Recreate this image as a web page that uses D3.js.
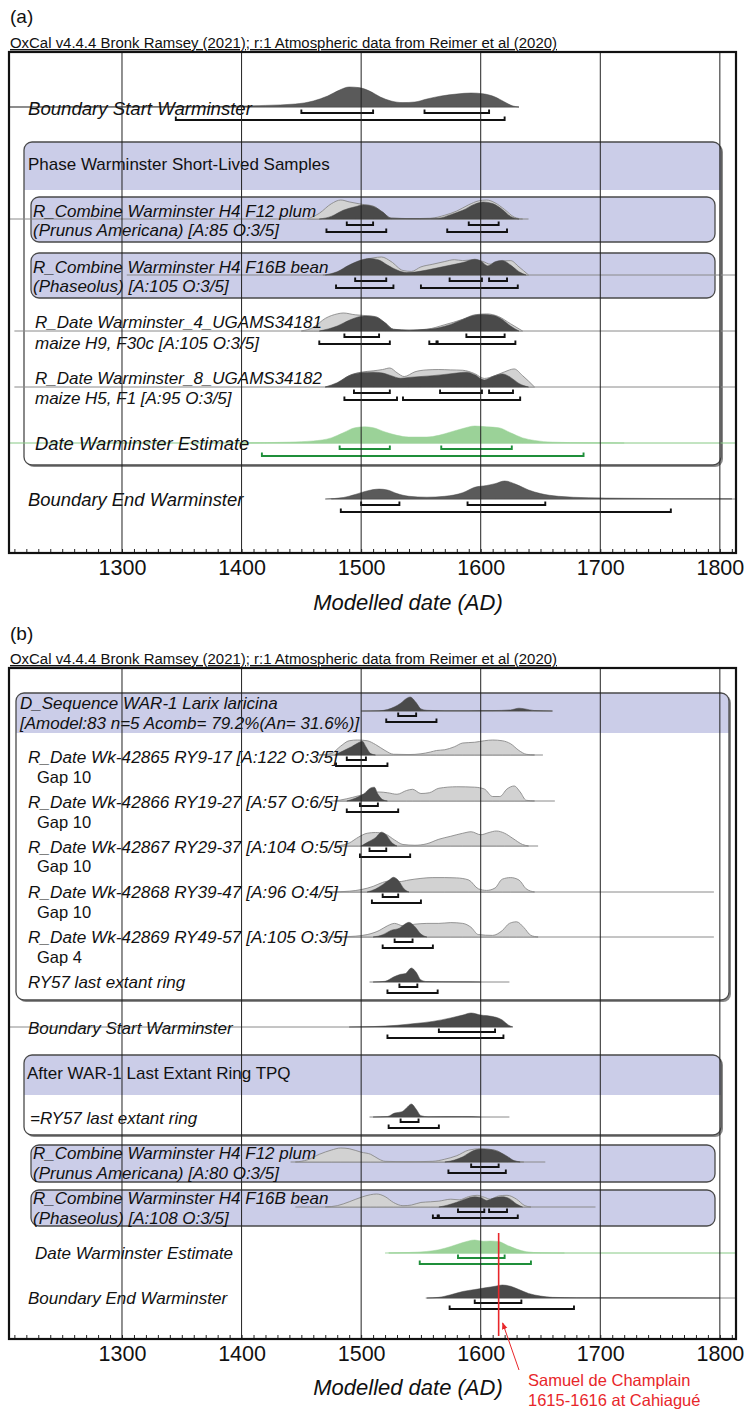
<!DOCTYPE html>
<html>
<head>
<meta charset="utf-8">
<script src="https://cdnjs.cloudflare.com/ajax/libs/d3/7.8.5/d3.min.js"></script>
<style>
  body { margin: 0; background: #fff; }
  svg text { font-family: "Liberation Sans", Arial, sans-serif; fill: #111; }
</style>
</head>
<body>
<svg id="chart"></svg>
<script>
// Tick labels
const yearTicks = [1300, 1400, 1500, 1600, 1700, 1800];
const headerText = 'OxCal v4.4.4 Bronk Ramsey (2021); r:1 Atmospheric data from Reimer et al (2020)';

// ---- Panel (a) data: [year, relative probability] ----
const aStartPost = [[1205,0],[1300,0.01],[1380,0.03],[1420,0.08],[1445,0.15],[1460,0.3],[1472,0.55],[1482,0.85],[1490,1],[1498,0.97],[1507,0.8],[1516,0.5],[1525,0.3],[1535,0.22],[1545,0.25],[1555,0.4],[1567,0.55],[1580,0.65],[1592,0.7],[1602,0.66],[1612,0.5],[1620,0.25],[1627,0.05],[1632,0]];
const aStartSpan = [1205.5, 1632];
const aStart68 = [[1450,1510],[1553,1607]];
const aStart95 = [[1345,1620]];

const aF12Prior = [[1455,0],[1465,0.3],[1475,0.8],[1483,1],[1490,0.9],[1500,0.78],[1510,0.68],[1518,0.35],[1525,0.05],[1540,0.02],[1558,0.04],[1570,0.2],[1580,0.42],[1590,0.75],[1598,0.95],[1605,1],[1612,0.85],[1620,0.5],[1628,0.1],[1635,0]];
const aF12Post = [[1465,0],[1475,0.15],[1485,0.5],[1495,0.7],[1502,0.8],[1510,0.72],[1518,0.4],[1525,0.05],[1550,0.02],[1565,0.05],[1575,0.25],[1585,0.5],[1595,0.85],[1602,0.97],[1610,0.88],[1618,0.55],[1625,0.15],[1632,0]];
const aF12Span = [1205.5, 1640];
const aF12_68 = [[1488,1510],[1590,1615]];
const aF12_95 = [[1471,1521],[1572,1622]];

const aF16Prior = [[1468,0],[1480,0.15],[1490,0.5],[1500,0.8],[1510,0.95],[1517,1],[1525,0.75],[1535,0.25],[1542,0.2],[1550,0.45],[1560,0.6],[1570,0.75],[1578,0.85],[1585,0.8],[1595,0.85],[1602,0.75],[1608,0.6],[1615,0.75],[1625,0.8],[1632,0.45],[1640,0]];
const aF16Post = [[1470,0],[1480,0.2],[1490,0.6],[1500,0.9],[1507,1],[1515,0.9],[1522,0.6],[1530,0.3],[1538,0.15],[1545,0.18],[1555,0.3],[1565,0.45],[1575,0.6],[1585,0.75],[1595,0.95],[1600,0.85],[1606,0.55],[1612,0.8],[1618,0.88],[1625,0.6],[1632,0.2],[1638,0]];
const aF16Span = [1304, 1813.5];
const aF16_68 = [[1495,1521],[1574,1601],[1607,1622]];
const aF16_95 = [[1479,1527],[1550,1631]];

const aR4Prior = [[1450,0],[1460,0.2],[1470,0.7],[1480,0.95],[1485,1],[1495,0.9],[1505,0.85],[1512,0.8],[1520,0.45],[1527,0.1],[1540,0.05],[1555,0.1],[1570,0.35],[1585,0.65],[1595,0.9],[1605,0.95],[1615,0.8],[1625,0.4],[1635,0]];
const aR4Post = [[1465,0],[1480,0.3],[1490,0.65],[1500,0.88],[1505,0.9],[1512,0.85],[1520,0.5],[1527,0.1],[1540,0.05],[1555,0.1],[1565,0.2],[1575,0.4],[1585,0.7],[1595,0.95],[1602,1],[1610,0.95],[1618,0.7],[1625,0.3],[1632,0]];
const aR4Span = [1210, 1813.5];
const aR4_68 = [[1486,1515],[1588,1620]];
const aR4_95 = [[1465,1524],[1557,1563],[1564,1629]];

const aR8Prior = [[1470,0],[1480,0.2],[1490,0.6],[1500,0.78],[1510,0.85],[1518,0.92],[1524,1],[1530,0.75],[1536,0.55],[1545,0.8],[1555,0.9],[1565,0.92],[1575,0.9],[1585,0.88],[1595,0.7],[1603,0.45],[1612,0.6],[1620,0.8],[1628,0.95],[1635,0.6],[1645,0]];
const aR8Post = [[1470,0],[1480,0.25],[1490,0.65],[1500,0.82],[1510,0.85],[1518,0.8],[1525,0.65],[1533,0.5],[1540,0.55],[1550,0.6],[1560,0.65],[1570,0.72],[1580,0.8],[1588,0.85],[1595,0.7],[1603,0.4],[1610,0.6],[1618,0.75],[1625,0.55],[1632,0.2],[1640,0]];
const aR8Span = [1210, 1813.5];
const aR8_68 = [[1494,1524],[1566,1601],[1607,1627]];
const aR8_95 = [[1486,1530],[1535,1633]];

const aEstPost = [[1400,0],[1420,0.02],[1440,0.05],[1460,0.12],[1475,0.3],[1485,0.6],[1495,0.9],[1503,0.95],[1510,0.9],[1520,0.65],[1530,0.45],[1540,0.35],[1555,0.35],[1565,0.45],[1575,0.65],[1585,0.85],[1595,1],[1605,0.95],[1615,0.9],[1625,0.6],[1635,0.3],[1645,0.15],[1660,0.05],[1690,0.01],[1720,0]];
const aEstSpan = [1205.5, 1813.5];
const aEst68 = [[1482,1524],[1567,1626]];
const aEst95 = [[1417,1686]];

const aEndPost = [[1470,0],[1485,0.08],[1495,0.25],[1505,0.45],[1515,0.55],[1522,0.5],[1530,0.3],[1540,0.15],[1555,0.1],[1570,0.15],[1585,0.35],[1595,0.65],[1605,0.75],[1612,0.85],[1620,1],[1630,0.8],[1640,0.5],[1650,0.3],[1665,0.15],[1690,0.07],[1720,0.04],[1760,0.02],[1810,0.01]];
const aEndSpan = [1475, 1813.5];
const aEnd68 = [[1500,1532],[1589,1654]];
const aEnd95 = [[1483,1759]];

// ---- Panel (b) data ----
const bSeqPost = [[1500,0],[1515,0.02],[1522,0.1],[1528,0.3],[1533,0.55],[1538,0.9],[1541,1],[1546,0.6],[1550,0.15],[1555,0.05],[1570,0.02],[1590,0.02],[1610,0.03],[1625,0.08],[1632,0.2],[1637,0.15],[1645,0.03],[1660,0]];
const bSeqSpan = [1501, 1660];
const bSeq68 = [[1531,1546]];
const bSeq95 = [[1521,1563]];

const b65Prior = [[1465,0],[1475,0.1],[1483,0.6],[1490,0.95],[1497,1],[1505,0.95],[1512,0.7],[1520,0.3],[1527,0.05],[1540,0.03],[1550,0.08],[1558,0.2],[1563,0.3],[1570,0.35],[1578,0.55],[1585,0.8],[1595,0.85],[1603,0.95],[1610,1],[1618,0.95],[1625,0.75],[1632,0.3],[1638,0.05],[1645,0]];
const b65Post = [[1478,0],[1485,0.3],[1492,0.6],[1498,0.9],[1501,1],[1504,0.6],[1508,0.1],[1512,0]];
const b65Span = [1470, 1652];
const b65_68 = [[1488,1504]];
const b65_95 = [[1479,1522]];

const b66Prior = [[1478,0],[1488,0.15],[1498,0.35],[1505,0.5],[1515,0.6],[1522,0.55],[1530,0.45],[1538,0.7],[1543,0.78],[1550,0.5],[1557,0.55],[1565,0.85],[1580,0.95],[1595,0.92],[1603,0.8],[1610,0.3],[1616,0.3],[1622,0.8],[1628,1],[1633,0.6],[1638,0.05],[1645,0]];
const b66Post = [[1488,0],[1495,0.2],[1502,0.5],[1508,0.95],[1511,1],[1514,0.5],[1518,0.1],[1522,0]];
const b66Span = [1475, 1662];
const b66_68 = [[1499,1514]];
const b66_95 = [[1488,1531]];

const b67Prior = [[1480,0],[1490,0.2],[1498,0.6],[1505,0.85],[1512,0.9],[1520,0.8],[1528,0.4],[1535,0.1],[1545,0.05],[1555,0.15],[1565,0.45],[1575,0.65],[1585,0.85],[1592,0.95],[1600,0.75],[1607,0.9],[1613,1],[1620,0.85],[1627,0.5],[1635,0.1],[1640,0]];
const b67Post = [[1500,0],[1506,0.3],[1512,0.6],[1517,1],[1521,0.8],[1525,0.3],[1530,0]];
const b67Span = [1480, 1648];
const b67_68 = [[1507,1521]];
const b67_95 = [[1499,1541]];

const b68Prior = [[1475,0],[1490,0.05],[1500,0.15],[1510,0.35],[1518,0.6],[1525,0.7],[1532,0.65],[1540,0.75],[1550,0.85],[1560,0.9],[1570,0.9],[1580,0.88],[1590,0.75],[1598,0.2],[1605,0.1],[1612,0.25],[1618,0.8],[1625,0.9],[1632,0.75],[1638,0.2],[1645,0]];
const b68Post = [[1505,0],[1512,0.2],[1518,0.5],[1524,0.85],[1527,1],[1531,0.8],[1536,0.2],[1540,0]];
const b68Span = [1470, 1795];
const b68_68 = [[1518,1531]];
const b68_95 = [[1509,1550]];

const b69Prior = [[1478,0],[1495,0.05],[1505,0.15],[1515,0.4],[1522,0.7],[1528,0.85],[1535,0.7],[1545,0.8],[1555,0.85],[1565,0.85],[1575,0.9],[1585,0.85],[1592,0.6],[1598,0.15],[1610,0.1],[1618,0.4],[1624,0.85],[1630,0.95],[1636,0.6],[1642,0.1],[1648,0]];
const b69Post = [[1510,0],[1518,0.15],[1525,0.45],[1532,0.6],[1537,0.9],[1540,1],[1545,0.7],[1550,0.2],[1555,0]];
const b69Span = [1470, 1795];
const b69_68 = [[1528,1543]];
const b69_95 = [[1518,1560]];

const bRy57Post = [[1510,0],[1520,0.05],[1527,0.35],[1533,0.55],[1537,0.6],[1542,1],[1546,0.7],[1550,0.15],[1555,0.03],[1580,0.01],[1600,0]];
const bRy57Span = [1507, 1624];
const bRy57_68 = [[1532,1547]];
const bRy57_95 = [[1522,1564]];

const bStartPost = [[1490,0],[1510,0.03],[1530,0.12],[1545,0.25],[1560,0.4],[1575,0.65],[1585,0.85],[1592,1],[1600,0.85],[1610,0.75],[1618,0.5],[1623,0.15],[1627,0]];
const bStartSpan = [1205.5, 1626];
const bStart68 = [[1565,1612]];
const bStart95 = [[1522,1619]];

const bTpqPost = [[1510,0],[1522,0.04],[1528,0.3],[1534,0.4],[1538,0.7],[1542,1],[1546,0.6],[1550,0.1],[1556,0.02],[1585,0.03],[1600,0]];
const bTpqSpan = [1507, 1624];
const bTpq68 = [[1533,1548]];
const bTpq95 = [[1523,1565]];

const bF12Prior = [[1445,0],[1455,0.15],[1465,0.55],[1475,0.85],[1483,1],[1490,0.95],[1500,0.7],[1508,0.55],[1515,0.2],[1520,0.05],[1540,0.02],[1560,0.05],[1570,0.2],[1580,0.45],[1590,0.85],[1600,0.95],[1608,0.9],[1615,0.75],[1622,0.3],[1630,0.05],[1636,0]];
const bF12Post = [[1570,0],[1578,0.15],[1585,0.4],[1592,0.8],[1600,1],[1607,0.98],[1615,0.8],[1622,0.45],[1628,0.1],[1633,0]];
const bF12Span = [1441, 1654];
const bF12_68 = [[1592,1615]];
const bF12_95 = [[1573,1621]];

const bF16Prior = [[1470,0],[1480,0.1],[1490,0.4],[1500,0.75],[1508,0.95],[1513,1],[1520,0.8],[1527,0.35],[1535,0.1],[1542,0.15],[1550,0.35],[1558,0.4],[1565,0.45],[1575,0.6],[1582,0.55],[1590,0.8],[1597,0.9],[1603,0.75],[1608,0.6],[1615,0.85],[1622,0.9],[1630,0.6],[1637,0.1],[1642,0]];
const bF16Post = [[1565,0],[1572,0.15],[1580,0.4],[1588,0.7],[1595,0.85],[1600,0.8],[1605,0.55],[1611,0.75],[1618,0.85],[1624,0.7],[1630,0.25],[1635,0]];
const bF16Span = [1445, 1696];
const bF16_68 = [[1581,1603],[1607,1622]];
const bF16_95 = [[1560,1564],[1565,1631]];

const bEstPost = [[1520,0],[1540,0.04],[1555,0.12],[1565,0.25],[1575,0.5],[1585,0.8],[1595,1],[1602,0.9],[1608,0.92],[1615,0.88],[1622,0.6],[1630,0.3],[1638,0.1],[1650,0.02],[1670,0]];
const bEstSpan = [1523, 1813.5];
const bEst68 = [[1581,1620]];
const bEst95 = [[1549,1642]];

const bEndPost = [[1555,0],[1565,0.05],[1575,0.25],[1585,0.5],[1595,0.65],[1605,0.8],[1612,0.9],[1618,1],[1625,0.9],[1632,0.65],[1640,0.35],[1650,0.15],[1660,0.05],[1680,0.02],[1720,0.01],[1800,0]];
const bEndSpan = [1554, 1813.5];
const bEnd68 = [[1595,1634]];
const bEnd95 = [[1574,1678]];

const champlainYear = 1615;

// Setup
const width = 754, height = 1409;
const svg = d3.select('#chart').attr('width', width).attr('height', height);
const x = d3.scaleLinear().domain([1205.5, 1813.5]).range([9, 736]);

const col = {
  lav: '#cbcde8', box: '#4a4a4a', prior: '#d2d2d2', priorLine: '#8a8a8a',
  post: '#4a4a4a', bound: '#5a5a5a', line: '#8a8a8a',
  green: '#9bd298', greenLine: '#86c984', greenBr: '#1f8f3a'
};

function boxes(g, list) {
  list.forEach(b => {
    const w = b.x1 - b.x0, h = b.y1 - b.y0;
    if (b.shadow) {
      g.append('rect').attr('x', b.x0 + 2).attr('y', b.y0 + 2).attr('width', w).attr('height', h)
        .attr('rx', 8).attr('fill', '#8a8a8a');
    }
    g.append('rect').attr('x', b.x0).attr('y', b.y0).attr('width', w).attr('height', h)
      .attr('rx', 8).attr('fill', b.band ? '#fff' : col.lav);
    if (b.band) {
      const id = 'clip' + b.y0;
      g.append('clipPath').attr('id', id).append('rect')
        .attr('x', b.x0).attr('y', b.y0).attr('width', w).attr('height', h).attr('rx', 8);
      g.append('rect').attr('clip-path', `url(#${id})`)
        .attr('x', b.x0).attr('y', b.y0).attr('width', w).attr('height', b.band - b.y0)
        .attr('fill', col.lav);
    }
    g.append('rect').attr('x', b.x0).attr('y', b.y0).attr('width', w).attr('height', h)
      .attr('rx', 8).attr('fill', 'none').attr('stroke', col.box).attr('stroke-width', 1.3);
  });
}

function drawRow(g, r, off68, off95) {
  const area = (h) => d3.area()
    .x(d => x(d[0])).y0(r.y).y1(d => r.y - d[1] * h)
    .curve(d3.curveMonotoneX);
  const green = r.kind === 'green';
  g.append('line')
    .attr('x1', x(r.span[0])).attr('x2', x(r.span[1]))
    .attr('y1', r.y).attr('y2', r.y)
    .attr('stroke', green ? col.greenLine : col.line).attr('stroke-width', 1);
  if (r.prior) {
    g.append('path').datum(r.prior).attr('d', area(r.h))
      .attr('fill', col.prior).attr('stroke', col.priorLine).attr('stroke-width', 0.9);
  }
  g.append('path').datum(r.post).attr('d', area(r.h * (r.prior ? 0.92 : 1)))
    .attr('fill', green ? col.green : (r.kind === 'bound' ? col.bound : col.post))
    .attr('stroke', green ? col.green : '#444').attr('stroke-width', 0.5);
  const br = (ranges, yy) => {
    g.selectAll(null).data(ranges).enter().append('path')
      .attr('d', d => `M${x(d[0])},${yy - 3.5}V${yy}H${x(d[1])}V${yy - 3.5}`)
      .attr('fill', 'none').attr('stroke', green ? col.greenBr : '#111')
      .attr('stroke-width', 1.9);
  };
  br(r.r68, r.y + off68);
  br(r.r95, r.y + off95);
}

function labels(g, list) {
  g.selectAll(null).data(list).enter().append('text')
    .attr('x', d => d.x).attr('y', d => d.y).attr('dy', '0.36em')
    .attr('font-size', d => d.fs)
    .attr('font-style', d => d.it === false ? 'normal' : 'italic')
    .text(d => d.t);
}

function panel(p) {
  const g = svg.append('g');
  g.append('text').attr('x', 10).attr('y', p.tag[1]).attr('dy', '0.36em')
    .attr('font-size', 19).text(p.tag[0]);
  g.append('text').attr('x', 10).attr('y', p.top - 4)
    .attr('font-size', 14).attr('textLength', 547).attr('lengthAdjust', 'spacingAndGlyphs')
    .attr('text-decoration', 'underline').text(headerText);
  g.append('rect').attr('x', 9).attr('y', p.top).attr('width', 727).attr('height', p.bottom - p.top)
    .attr('fill', '#fff');
  boxes(g, p.boxes);
  p.rows.forEach(r => drawRow(g, r, p.off68, p.off95));
  labels(g, p.labels);

  // grid lines
  g.selectAll(null).data(yearTicks).enter().append('line')
    .attr('x1', d => x(d)).attr('x2', d => x(d))
    .attr('y1', p.top).attr('y2', p.bottom)
    .attr('stroke', '#222').attr('stroke-width', 1);

  // minor ticks
  g.append('g').attr('transform', `translate(0,${p.bottom})`)
    .call(d3.axisTop(x).tickValues(d3.range(1210, 1811, 10)).tickSize(4).tickFormat(''))
    .call(a => a.select('.domain').remove())
    .call(a => a.selectAll('line').attr('stroke', '#222'));

  g.append('rect').attr('x', 9).attr('y', p.top).attr('width', 727).attr('height', p.bottom - p.top)
    .attr('fill', 'none').attr('stroke', '#111').attr('stroke-width', 2.2);

  g.append('g').attr('transform', `translate(0,${p.bottom})`)
    .call(d3.axisBottom(x).tickValues(yearTicks).tickSize(0).tickPadding(7).tickFormat(d3.format('d')))
    .call(a => a.select('.domain').remove())
    .call(a => a.selectAll('text').attr('font-size', 21.5)
      .attr('font-family', '"Liberation Sans", Arial, sans-serif').attr('fill', '#111'));

  g.append('text').attr('x', 408).attr('y', p.title).attr('dy', '0.36em')
    .attr('text-anchor', 'middle').attr('font-size', 22).attr('font-style', 'italic')
    .text('Modelled date (AD)');
  return g;
}

// Panel (a)
panel({
  tag: ['(a)', 16], top: 52, bottom: 553, title: 602, off68: 6, off95: 13,
  boxes: [
    { x0: 24, x1: 721, y0: 142, y1: 465, band: 190, shadow: true },
    { x0: 31, x1: 715, y0: 197, y1: 242 },
    { x0: 31, x1: 715, y0: 253, y1: 298 }
  ],
  rows: [
    { y: 107, h: 20, kind: 'bound', post: aStartPost, span: aStartSpan, r68: aStart68, r95: aStart95 },
    { y: 219, h: 19, prior: aF12Prior, post: aF12Post, span: aF12Span, r68: aF12_68, r95: aF12_95 },
    { y: 275, h: 18, prior: aF16Prior, post: aF16Post, span: aF16Span, r68: aF16_68, r95: aF16_95 },
    { y: 331, h: 18, prior: aR4Prior, post: aR4Post, span: aR4Span, r68: aR4_68, r95: aR4_95 },
    { y: 387, h: 19, prior: aR8Prior, post: aR8Post, span: aR8Span, r68: aR8_68, r95: aR8_95 },
    { y: 443, h: 17, kind: 'green', post: aEstPost, span: aEstSpan, r68: aEst68, r95: aEst95 },
    { y: 499, h: 18, kind: 'bound', post: aEndPost, span: aEndSpan, r68: aEnd68, r95: aEnd95 }
  ],
  labels: [
    { t: 'Boundary Start Warminster', x: 28, y: 108, fs: 18.6 },
    { t: 'Phase Warminster Short-Lived Samples', x: 28, y: 164, fs: 17, it: false },
    { t: 'R_Combine Warminster H4 F12 plum', x: 33, y: 211, fs: 17 },
    { t: '(Prunus Americana) [A:85 O:3/5]', x: 33, y: 230, fs: 17 },
    { t: 'R_Combine Warminster H4 F16B bean', x: 33, y: 267, fs: 17 },
    { t: '(Phaseolus) [A:105 O:3/5]', x: 33, y: 286, fs: 17 },
    { t: 'R_Date Warminster_4_UGAMS34181', x: 35, y: 322, fs: 17 },
    { t: 'maize H9, F30c [A:105 O:3/5]', x: 35, y: 343, fs: 17 },
    { t: 'R_Date Warminster_8_UGAMS34182', x: 35, y: 378, fs: 17 },
    { t: 'maize H5, F1 [A:95 O:3/5]', x: 35, y: 398, fs: 17 },
    { t: 'Date Warminster Estimate', x: 35, y: 443, fs: 18.4 },
    { t: 'Boundary End Warminster', x: 28, y: 499, fs: 18.4 }
  ]
});

// Panel (b)
panel({
  tag: ['(b)', 633], top: 668, bottom: 1339, title: 1387, off68: 5, off95: 11,
  boxes: [
    { x0: 16, x1: 729, y0: 693, y1: 1000, band: 733, shadow: true },
    { x0: 24, x1: 721, y0: 1055, y1: 1135, band: 1095, shadow: true },
    { x0: 31, x1: 715, y0: 1145, y1: 1182 },
    { x0: 31, x1: 715, y0: 1190, y1: 1226 }
  ],
  rows: [
    { y: 711, h: 14, post: bSeqPost, span: bSeqSpan, r68: bSeq68, r95: bSeq95 },
    { y: 755, h: 15, prior: b65Prior, post: b65Post, span: b65Span, r68: b65_68, r95: b65_95 },
    { y: 801, h: 15, prior: b66Prior, post: b66Post, span: b66Span, r68: b66_68, r95: b66_95 },
    { y: 846, h: 15, prior: b67Prior, post: b67Post, span: b67Span, r68: b67_68, r95: b67_95 },
    { y: 892, h: 16, prior: b68Prior, post: b68Post, span: b68Span, r68: b68_68, r95: b68_95 },
    { y: 937, h: 16, prior: b69Prior, post: b69Post, span: b69Span, r68: b69_68, r95: b69_95 },
    { y: 982, h: 14, post: bRy57Post, span: bRy57Span, r68: bRy57_68, r95: bRy57_95 },
    { y: 1027, h: 14, post: bStartPost, span: bStartSpan, r68: bStart68, r95: bStart95 },
    { y: 1117, h: 13, post: bTpqPost, span: bTpqSpan, r68: bTpq68, r95: bTpq95 },
    { y: 1162, h: 14, prior: bF12Prior, post: bF12Post, span: bF12Span, r68: bF12_68, r95: bF12_95 },
    { y: 1207, h: 13, prior: bF16Prior, post: bF16Post, span: bF16Span, r68: bF16_68, r95: bF16_95 },
    { y: 1253, h: 13, kind: 'green', post: bEstPost, span: bEstSpan, r68: bEst68, r95: bEst95 },
    { y: 1298, h: 13, post: bEndPost, span: bEndSpan, r68: bEnd68, r95: bEnd95 }
  ],
  labels: [
    { t: 'D_Sequence WAR-1 Larix laricina', x: 20, y: 703, fs: 17 },
    { t: '[Amodel:83 n=5 Acomb= 79.2%(An= 31.6%)]', x: 20, y: 723, fs: 17 },
    { t: 'R_Date Wk-42865 RY9-17 [A:122 O:3/5]', x: 28, y: 757, fs: 17.2 },
    { t: 'Gap 10', x: 37, y: 777, fs: 16.5, it: false },
    { t: 'R_Date Wk-42866 RY19-27 [A:57 O:6/5]', x: 28, y: 802, fs: 17.2 },
    { t: 'Gap 10', x: 37, y: 822, fs: 16.5, it: false },
    { t: 'R_Date Wk-42867 RY29-37 [A:104 O:5/5]', x: 28, y: 847, fs: 17.2 },
    { t: 'Gap 10', x: 37, y: 866, fs: 16.5, it: false },
    { t: 'R_Date Wk-42868 RY39-47 [A:96 O:4/5]', x: 28, y: 892, fs: 17.2 },
    { t: 'Gap 10', x: 37, y: 912, fs: 16.5, it: false },
    { t: 'R_Date Wk-42869 RY49-57 [A:105 O:3/5]', x: 28, y: 937, fs: 17.2 },
    { t: 'Gap 4', x: 37, y: 957, fs: 16.5, it: false },
    { t: 'RY57 last extant ring', x: 28, y: 982, fs: 17 },
    { t: 'Boundary Start Warminster', x: 28, y: 1028, fs: 17 },
    { t: 'After WAR-1 Last Extant Ring TPQ', x: 27, y: 1073, fs: 17, it: false },
    { t: '=RY57 last extant ring', x: 30, y: 1118, fs: 17 },
    { t: 'R_Combine Warminster H4 F12 plum', x: 33, y: 1153, fs: 17 },
    { t: '(Prunus Americana) [A:80 O:3/5]', x: 33, y: 1173, fs: 17 },
    { t: 'R_Combine Warminster H4 F16B bean', x: 33, y: 1198, fs: 17 },
    { t: '(Phaseolus) [A:108 O:3/5]', x: 33, y: 1218, fs: 17 },
    { t: 'Date Warminster Estimate', x: 35, y: 1253, fs: 17 },
    { t: 'Boundary End Warminster', x: 28, y: 1298, fs: 17 }
  ]
});

// Champlain annotation
const red = '#e8262a';
svg.append('defs').append('marker').attr('id', 'arr')
  .attr('viewBox', '0 0 10 10').attr('refX', 9).attr('refY', 5)
  .attr('markerWidth', 7).attr('markerHeight', 7).attr('orient', 'auto')
  .append('path').attr('d', 'M0,1L10,5L0,9Z').attr('fill', red);
svg.append('line').attr('x1', x(champlainYear)).attr('x2', x(champlainYear))
  .attr('y1', 1233).attr('y2', 1336).attr('stroke', red).attr('stroke-width', 1.6);
svg.append('line').attr('x1', 519).attr('y1', 1370).attr('x2', x(champlainYear) + 4).attr('y2', 1323)
  .attr('stroke', red).attr('stroke-width', 1).attr('marker-end', 'url(#arr)');
svg.append('text').attr('x', 528).attr('y', 1380).attr('dy', '0.36em')
  .attr('font-size', 16.5).style('fill', red).text('Samuel de Champlain');
svg.append('text').attr('x', 528).attr('y', 1400).attr('dy', '0.36em')
  .attr('font-size', 16.5).style('fill', red).text('1615-1616 at Cahiagué');
</script>
</body>
</html>
